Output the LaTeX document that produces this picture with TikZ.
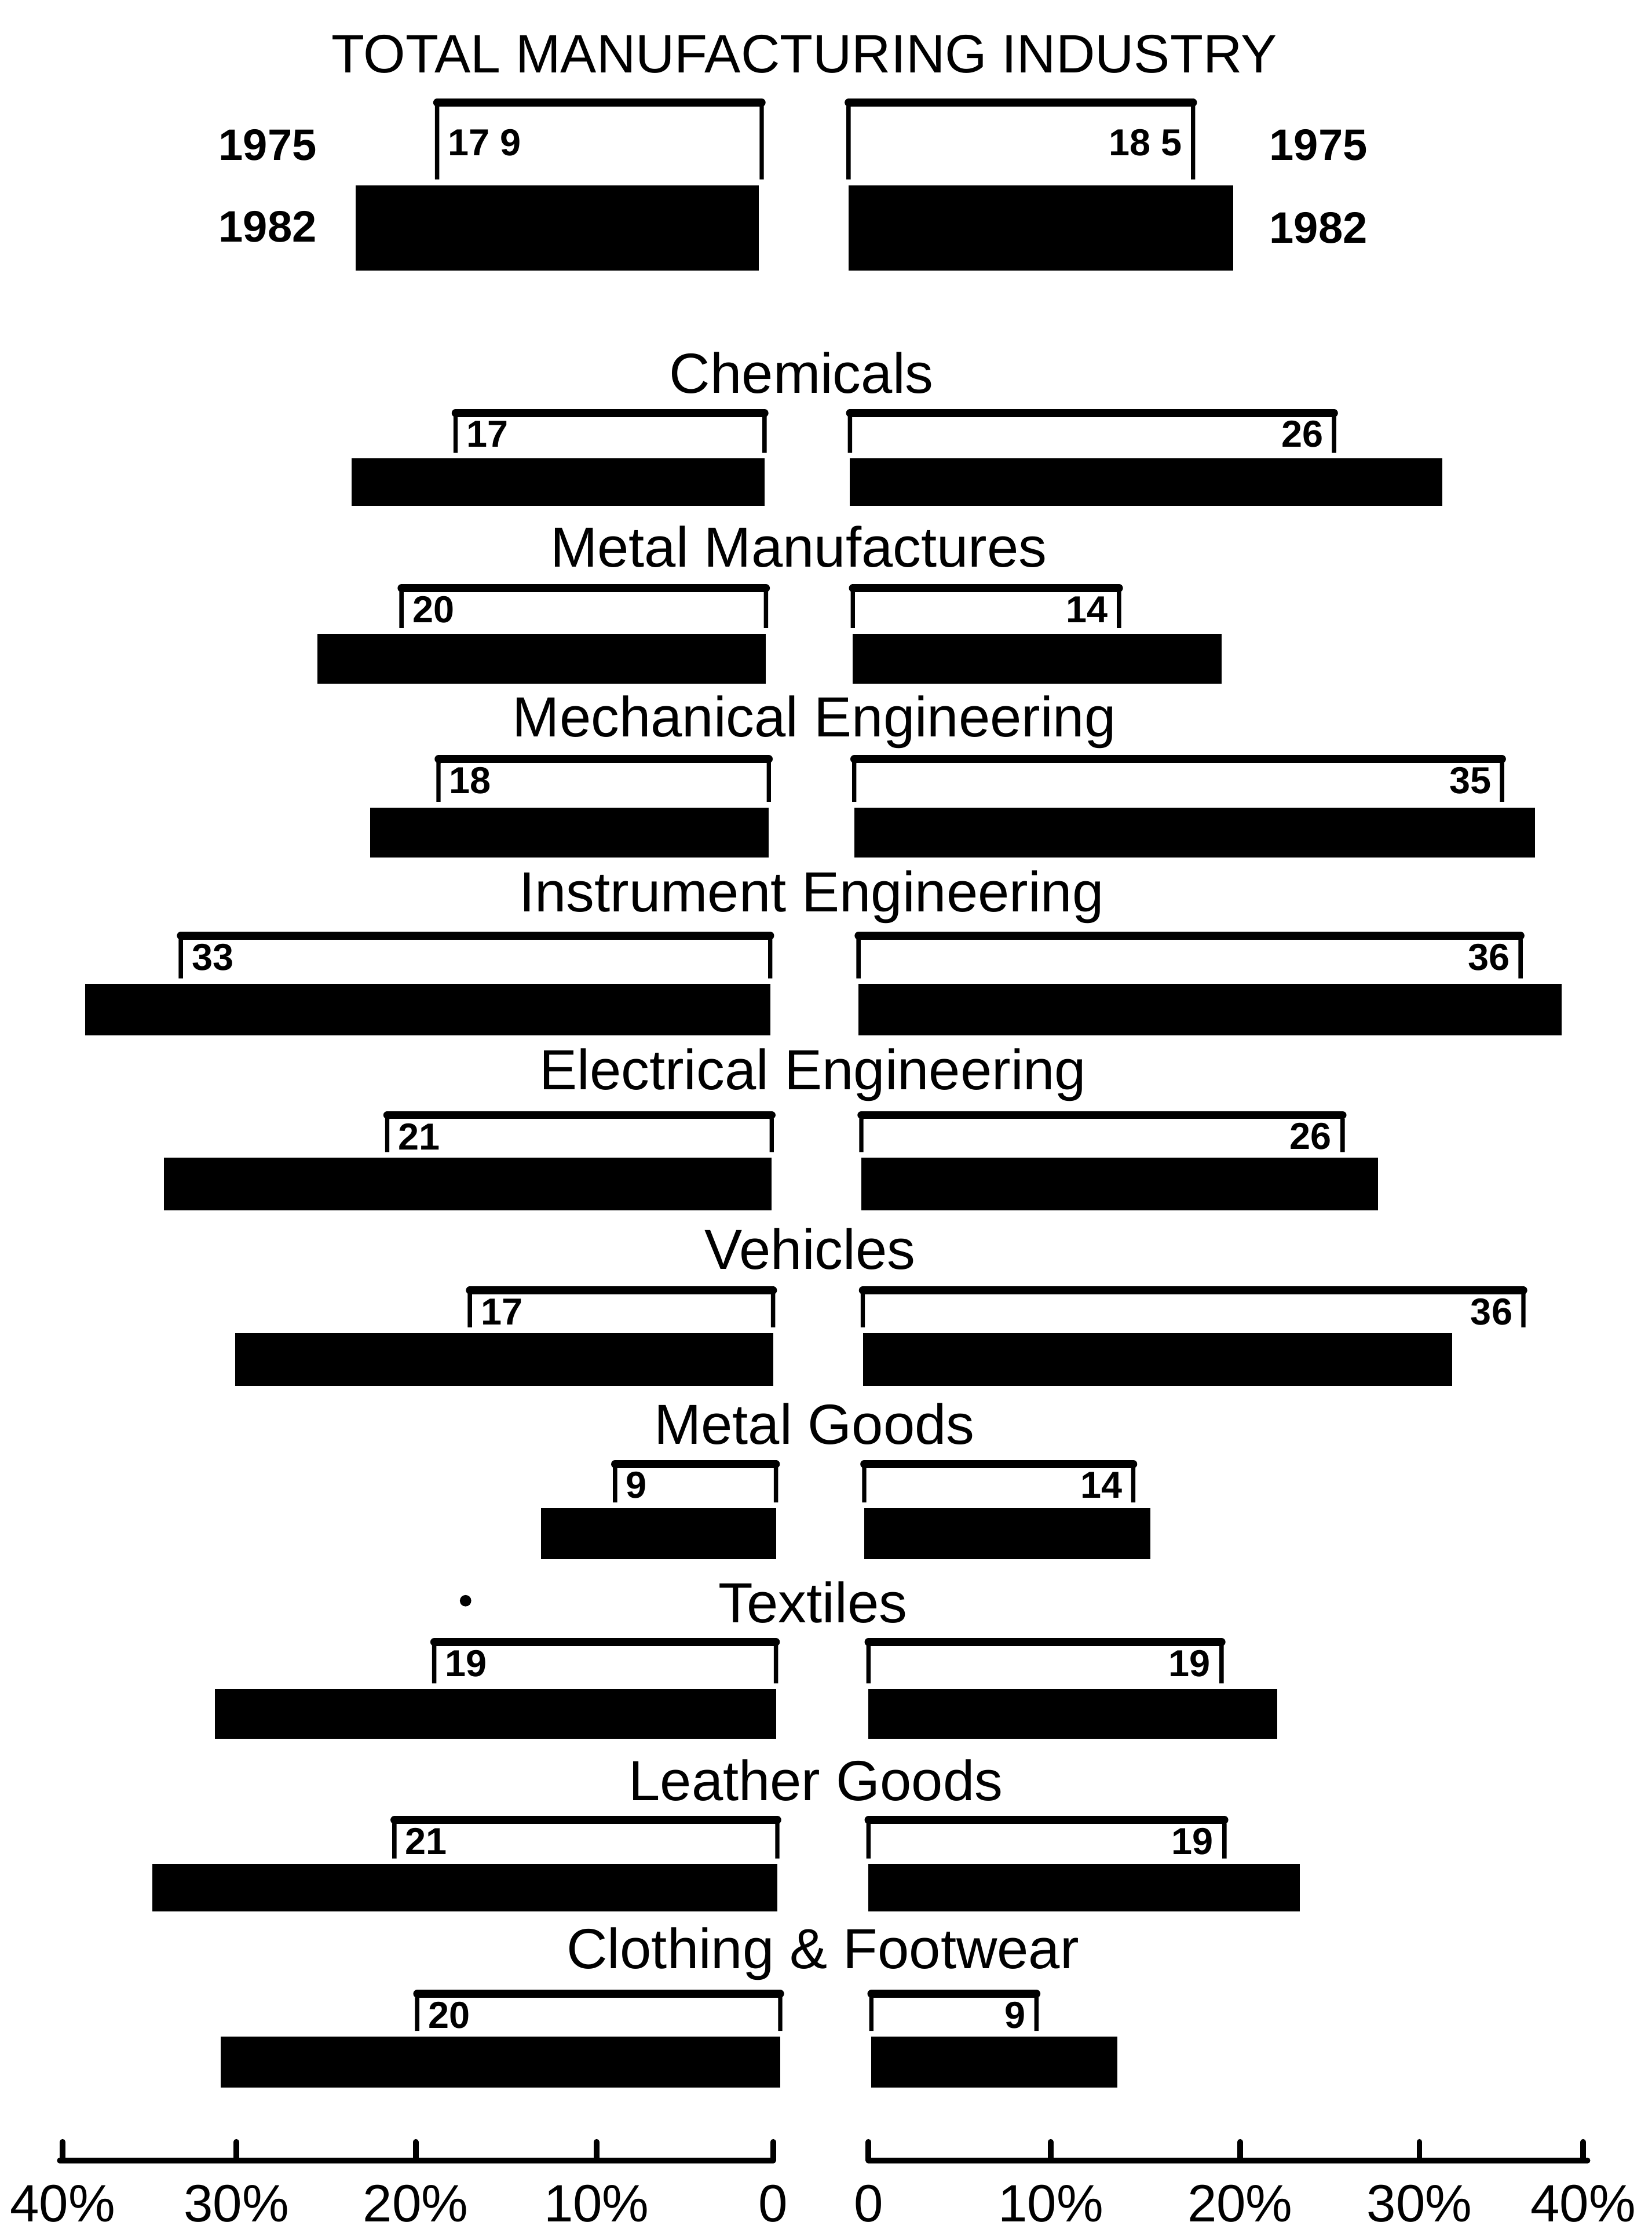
\documentclass[tikz,border=0pt]{standalone}
\usepackage{fontspec}
\setmainfont{Liberation Sans}
\usetikzlibrary{positioning}

\tikzset{
  box75/.style={line width=0.3mm, rounded corners=0.8pt},
  top75/.style={line width=0.55mm, line cap=round},
  cat/.style={font=\fontsize{11.3}{12}\selectfont, inner sep=0pt},
  val/.style={font=\bfseries\fontsize{7.5}{9}\selectfont, inner sep=0pt},
  year/.style={font=\bfseries\fontsize{8.8}{10}\selectfont, inner sep=0pt},
  axisline/.style={line width=0.4mm, line cap=round},
  axislbl/.style={font=\fontsize{10.5}{12}\selectfont, inner sep=0pt, anchor=base},
}

\begin{document}
\begin{tikzpicture}[x=0.1mm, y=-0.1mm]
    \useasboundingbox (0,0) rectangle (1160,1568);
    % total manufacturing industry
    \node[cat, font=\fontsize{10.8}{12}\selectfont] (total) at (565,38) {TOTAL MANUFACTURING INDUSTRY};
    \draw[box75] (307,126) -- (307,72) -- (535,72) -- (535,126);
    \draw[top75] (307,72) -- (535,72);
    \draw[box75] (596,126) -- (596,72) -- (838,72) -- (838,126);
    \draw[top75] (596,72) -- (838,72);
    \fill (250,130) rectangle (533,190);
    \fill (596,130) rectangle (866,190);
    \node[val, anchor=west] (totL) at (314,100) {17 9};
    \node[val, anchor=east] (totR) at (831,100) {18 5};
    \node[year] (yrL75) at (188,102) {1975};
    \node[year] (yrL82) at (188,159) {1982};
    \node[year] (yrR75) at (926,102) {1975};
    \node[year] (yrR82) at (926,160) {1982};
    % industries
    \foreach \lbl/\cx/\ty/\yt/\ya/\yb/\xl/\xr/\la/\lbar/\ra/\rbar/\lv/\rv [count=\i] in {
        Chemicals/563/262/290/322/355/537/597/320/247/937/1013/17/26,
        Metal Manufactures/561/384/413/445/480/538/599/282/223/786/858/20/14,
        Mechanical Engineering/572/507/533/567/602/540/600/308/260/1055/1078/18/35,
        Instrument Engineering/570/630/657/691/727/541/603/127/60/1068/1097/33/36,
        Electrical Engineering/571/755/783/813/850/542/605/272/115/943/968/21/26,
        Vehicles/569/877/906/936/973/543/606/330/165/1070/1020/17/36,
        Metal Goods/572/1000/1028/1059/1095/545/607/432/380/796/808/9/14,
        Textiles/571/1125/1153/1186/1221/545/610/305/151/858/897/19/19,
        Leather Goods/573/1250/1278/1309/1342/546/610/277/107/860/913/21/19,
        Clothing \& Footwear/578/1372/1400/1430/1466/548/612/293/155/728/785/20/9}
    {
        \node[cat] (cat\i) at (\cx,\ty) {\lbl};
        \draw[box75] (\la,\ya-4) -- (\la,\yt) -- (\xl,\yt) -- (\xl,\ya-4);
        \draw[top75] (\la,\yt) -- (\xl,\yt);
        \draw[box75] (\xr,\ya-4) -- (\xr,\yt) -- (\ra,\yt) -- (\ra,\ya-4);
        \draw[top75] (\xr,\yt) -- (\ra,\yt);
        \fill (\lbar,\ya) rectangle (\xl,\yb);
        \fill (\xr,\ya) rectangle (\rbar,\yb);
        \node[val, anchor=west] (valL\i) at (\la+7,\yt+15) {\lv};
        \node[val, anchor=east] (valR\i) at (\ra-7,\yt+15) {\rv};
    }
    \fill (327,1124) circle (4);
    % scales
    \draw[axisline] (42,1517) -- (543,1517);
    \draw[axisline] (610,1517) -- (1115,1517);
    \foreach \x/\t [count=\j] in {44/40\%,166/30\%,292/20\%,419/10\%,543/0,
                                  610/0,738/10\%,871/20\%,997/30\%,1112/40\%}
    {
        \draw[axisline] (\x,1517) -- (\x,1504);
        \node[axislbl] (ax\j) at (\x,1560) {\t};
    }
\end{tikzpicture}
\end{document}
